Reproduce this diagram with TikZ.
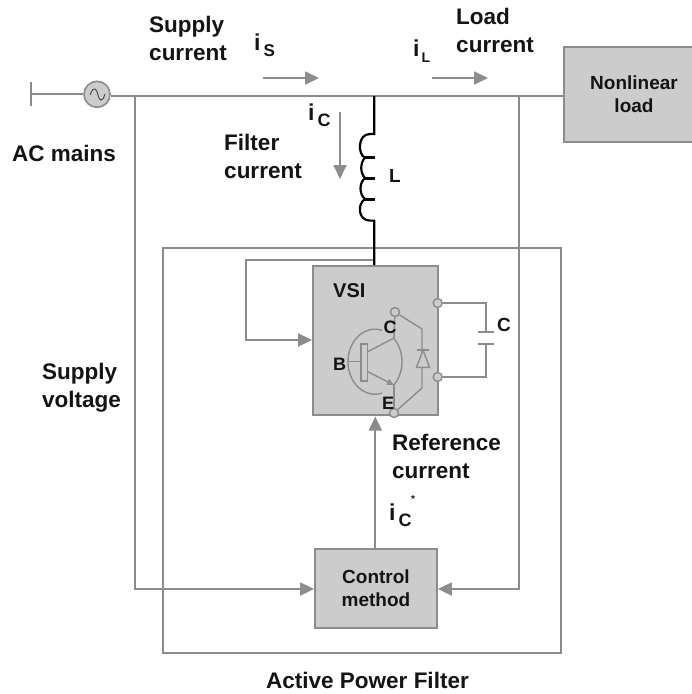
\documentclass[tikz,border=0pt]{standalone}
\usepackage{fontspec}
\setmainfont{Liberation Sans}
\usetikzlibrary{arrows.meta}
\definecolor{wire}{HTML}{8C8C8C}
\definecolor{boxfill}{HTML}{CCCCCC}
\definecolor{ink}{HTML}{141414}
\newcommand{\fs}[1]{\fontsize{#1}{28}\selectfont}
\newcommand{\curr}[3]{{\fs{23}i\kern #3pt\raisebox{-6pt}{\fs{#2}#1}}}
\tikzset{
  x=1pt,y=-1pt,
  line/.style={draw=wire,line width=1.8pt},
  tipline/.style={line,-{Triangle[length=14pt,width=13pt]}},
  blockbox/.style={draw=wire,fill=boxfill,line width=1.8pt,inner sep=0pt,align=center,font=\bfseries\fontsize{19}{23}\selectfont,text=ink},
  lab/.style={inner sep=0pt,align=left,font=\bfseries\fs{22.5},text=ink},
  tag/.style={inner sep=0pt,anchor=base west,font=\bfseries,text=ink},
  coil/.style={draw=black,line width=2.2pt},
  term/.style={circle,draw=wire,fill=boxfill,line width=1.4pt,minimum size=9pt,inner sep=0pt},
  thin wire/.style={draw=wire,line width=1.4pt},
}
\begin{document}
\begin{tikzpicture}
\useasboundingbox (0,0) rectangle (692,694);
\fill[white] (0,0) rectangle (692,694);
% frame
\node[draw=wire,line width=1.8pt,minimum width=398pt,minimum height=405pt,inner sep=0pt] (apf) at (362,450.5) {};
% blocks
\node[blockbox,minimum width=140pt,minimum height=95pt] (load) at (634,94.5) {Nonlinear\\load};
\node[blockbox,minimum width=125pt,minimum height=149pt] (vsi) at (375.5,340.5) {};
\node[blockbox,minimum width=122pt,minimum height=79pt] (ctrl) at (376,588.5) {Control\\method};
\node[circle,draw=wire,fill=boxfill,line width=1.6pt,minimum size=26pt,inner sep=0pt] (src) at (97,94.3) {};
\draw[draw=ink!80,line width=0.9pt] (90,95) .. controls (94,84) and (97,90) .. (98,95) .. controls (99,100) and (102,104) .. (105,94);
% coordinates
\coordinate (gl) at (31,82); \coordinate (gh) at (31,106); \coordinate (gm) at (31,94.3);
\coordinate (j1) at (135,96); \coordinate (j2) at (374.3,96); \coordinate (j3) at (519,96);
\coordinate (lt) at (374.3,134); \coordinate (lb) at (374.3,220.6); \coordinate (fb) at (374.3,260);
\coordinate (fbl) at (246,260); \coordinate (fbd) at (246,340);
\coordinate (cl) at (135,589); \coordinate (cr) at (519,589);
% mains and branches
\draw[line] (gl) -- (gh);
\draw[line] (gm) -- (src);
\draw[line] (src.east |- j1) -- (load.west |- j1);
\draw[tipline] (j1) -- (cl) -- (ctrl.west |- cl);
\draw[tipline] (j3) -- (cr) -- (ctrl.east |- cr);
\draw[tipline] (ctrl.north -| fb) ++(1,0) -- (375.3,416.5);
\draw[tipline] (fb) -- (fbl) -- (fbd) -- (vsi.west |- fbd);
% inductor
\draw[coil] (j2) -- (lt) -- (370,134) .. controls (357,134) and (358,155) .. (365,157.7) .. controls (360,163) and (360,173) .. (365,178) .. controls (359,183) and (359,194) .. (365,199) .. controls (357,204) and (358,220.6) .. (370,220.6) -- (lb) -- (fb) -- (vsi.north -| fb);
\draw[coil,line width=3pt] (364,157.7) -- (375,157.7) (364,178) -- (375,178) (364,199) -- (375,199);
% current arrows
\coordinate (sa) at (263,78); \coordinate (sb) at (319,78);
\coordinate (la) at (432,78); \coordinate (lc) at (488,78);
\coordinate (ca) at (340,112); \coordinate (cb) at (340,179);
\draw[tipline] (sa) -- (sb);
\draw[tipline] (la) -- (lc);
\draw[tipline] (ca) -- (cb);
% transistor
\coordinate (ccol) at (394,338); \coordinate (cemi) at (394,385); \coordinate (cbase) at (346.7,361.7);
\draw[thin wire] plot[domain=75:285,samples=40] ({375+27*cos(\x)},{361.7+32.5*sin(\x)});
\draw[thin wire] plot[domain=-47:47,samples=20] ({375+27*cos(\x)},{361.7+32.5*sin(\x)});
\node[draw=wire,line width=1.4pt,fill=boxfill,minimum width=6.5pt,minimum height=37pt,inner sep=0pt] (bar) at (364.3,362.5) {};
\draw[thin wire] (cbase) -- (bar.west |- cbase);
\draw[thin wire] (367.7,351.7) -- (ccol);
\draw[thin wire,-{Triangle[length=7pt,width=6pt]}] (367.7,371.7) -- (cemi);
% terminals
\node[term] (tc) at (395,312) {};
\node[term] (te) at (394,413) {};
\node[term] (tp) at (437.7,303) {};
\node[term] (tn) at (437.7,377) {};
\coordinate (dt) at (422,329); \coordinate (db) at (422,388);
\draw[thin wire] (tc) -- (dt) -- (db) -- (te);
\draw[thin wire,fill=boxfill] (416.5,367.3) -- (429.5,367.3) -- (423,350) -- cycle;
\draw[thin wire] (417,350) -- (429,350);
\draw[thin wire] (ccol) -- (tc);
\draw[thin wire] (cemi) -- (te);
% capacitor
\coordinate (cp1) at (486,303); \coordinate (cp2) at (486,332); \coordinate (cn2) at (486,344); \coordinate (cn1) at (486,377);
\draw[thin wire] (tp) -- (cp1) -- (cp2);
\draw[thin wire] (tn) -- (cn1) -- (cn2);
\draw[thin wire] (478,332) -- (494,332) (478,344) -- (494,344);
% labels
\node[lab] (t1) at (188,38) {Supply\\current};
\node[lab] (t2) at (495,30) {Load\\current};
\node[lab] (t3) at (263,156) {Filter\\current};
\node[lab] (t4) at (64,153) {AC mains};
\node[lab,align=left] (t5) at (81.5,388) {Supply\\voltage};
\node[lab] (t6) at (446.5,456) {Reference\\current};
\node[lab] (t7) at (367.5,680) {Active Power Filter};
\node[tag] (is) at (254,50) {\curr{S}{17}{3}};
\node[tag] (ic) at (308,120.7) {\curr{C}{18}{3}};
\node[tag] (il) at (413,56) {\curr{L}{14}{2}};
\node[tag] (ir) at (389,520) {\curr{C}{18}{3}};
\node[tag,font=\bfseries\fs{10}] (star) at (411,502) {*};
\node[tag,font=\bfseries\fs{19}] (tl) at (389,182) {L};
\node[tag,font=\bfseries\fs{20}] (tv) at (333,297) {VSI};
\node[tag,font=\bfseries\fs{18}] (tb) at (333,370) {B};
\node[tag,font=\bfseries\fs{18}] (tcc) at (383.5,333.5) {C};
\node[tag,font=\bfseries\fs{18}] (te2) at (382,409) {E};
\node[tag,font=\bfseries\fs{19}] (tcap) at (497,331) {C};
\end{tikzpicture}
\end{document}
